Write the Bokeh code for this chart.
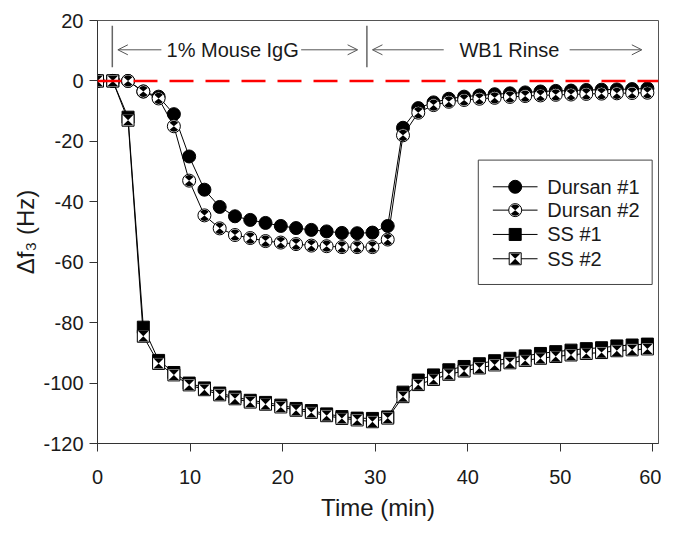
import math
from bokeh.plotting import figure
from bokeh.models import (Span, Arrow, OpenHead, FixedTicker, Range1d, PrintfTickFormatter)
from bokeh.embed import file_html
from bokeh.resources import INLINE
from bokeh.core.properties import value

# ---------------- data ----------------
time_min = [0.0, 1.65, 3.3, 4.95, 6.6, 8.25, 9.9, 11.55, 13.2, 14.85, 16.5, 18.15,
            19.8, 21.45, 23.1, 24.75, 26.4, 28.05, 29.7, 31.35, 33.0, 34.65, 36.3,
            37.95, 39.6, 41.25, 42.9, 44.55, 46.2, 47.85, 49.5, 51.15, 52.8, 54.45,
            56.1, 57.75, 59.4]
dursan1 = [0, 0, 0, -3.5, -5.2, -11, -25, -36, -41.7, -44.8, -46, -47, -48, -48.7,
           -49.3, -49.8, -50.3, -50.4, -50.2, -48, -15.5, -9.0, -7.1, -5.9, -5.2, -4.8,
           -4.4, -4.1, -3.8, -3.5, -3.3, -3.2, -3.0, -2.9, -2.8, -2.7, -2.5]
dursan2 = [0, 0, 0, -3.5, -5.8, -15, -33, -44.5, -48.8, -51, -52, -53, -53.5, -54,
           -54.5, -54.7, -55, -55, -55, -52.5, -18, -10.5, -8.0, -6.9, -6.3, -5.9,
           -5.6, -5.3, -5.0, -4.8, -4.6, -4.5, -4.3, -4.2, -4.1, -4.0, -3.9]
ss1 = [0, 0, -12, -81.5, -92.5, -96.5, -100, -101.6, -103.3, -104.6, -105.7, -106.4,
       -107.3, -108.4, -109.1, -110.2, -111.1, -111.6, -111.7, -111.2, -103, -99,
       -97.3, -95.6, -94.5, -93.6, -92.6, -91.8, -91.0, -90.2, -89.6, -89.1, -88.6,
       -88.3, -87.7, -87.4, -87.1]
ss2 = [0, 0, -13, -84.5, -93.5, -97.3, -100.6, -102.2, -103.9, -105.2, -106.3, -107.0,
       -107.9, -109.0, -109.7, -110.8, -111.7, -112.2, -112.8, -111.6, -104.5, -100.5,
       -98.8, -97.1, -96.0, -95.0, -94.0, -93.3, -92.5, -91.8, -91.2, -90.7, -90.2,
       -89.9, -89.3, -89.0, -88.7]
series_names = ["Dursan #1", "Dursan #2", "SS #1", "SS #2"]

x_ticks = [0, 10, 20, 30, 40, 50, 60]
y_ticks = [-120, -100, -80, -60, -40, -20, 0, 20]

phase_edges = [1.6, 29.1]
phase_labels = ["1% Mouse IgG", "WB1 Rinse"]
phase_label_x = [14.6, 44.5]
arrow_start = [6.9, 22.0, 37.4, 51.0]
arrow_end = [2.2, 28.1, 29.7, 58.8]

# ---------------- layout constants ----------------
FONT = "Liberation Sans"
W, H = 661, 523
ML, MR, MT, MB = 97, 3, 20, 77
X0, X1, Y0, Y1 = 0, 60.6, -120, 20

p = figure(width=W, height=H, x_range=Range1d(X0, X1), y_range=Range1d(Y0, Y1),
           output_backend="svg", toolbar_location=None,
           min_border_left=ML, min_border_right=MR, min_border_top=MT, min_border_bottom=MB)
p.xgrid.visible = False
p.ygrid.visible = False
p.outline_line_color = "#555555"
p.outline_line_width = 1
p.background_fill_color = "white"
p.border_fill_color = "white"

for ax in (p.xaxis[0], p.yaxis[0]):
    ax.axis_line_color = "#333333"
    ax.major_tick_line_color = "#333333"
    ax.major_tick_in = 0
    ax.major_tick_out = 8
    ax.minor_tick_line_color = None
    ax.major_label_text_font = FONT
    ax.major_label_text_font_size = "20px"
    ax.major_label_text_color = "#1a1a1a"
    ax.axis_label_text_font = FONT
    ax.axis_label_text_font_size = "24px"
    ax.axis_label_text_font_style = "normal"
    ax.axis_label_text_color = "#1a1a1a"
    ax.formatter = PrintfTickFormatter(format="%d")

p.xaxis.ticker = FixedTicker(ticks=x_ticks)
p.yaxis.ticker = FixedTicker(ticks=y_ticks)
p.xaxis.major_label_standoff = 18
p.xaxis.axis_label_standoff = 7
p.yaxis.major_label_standoff = 6
p.yaxis.axis_label_standoff = 1
p.xaxis.axis_label = "Time (min)"
p.yaxis.axis_label = "\u0394f\u2083 (Hz)"

# screen scale of this figure (data units per pixel)
px_x = (X1 - X0) / (W - ML - MR)
px_y = (Y1 - Y0) / (H - MT - MB)
sx_ratio = (1 / px_x) / 9.53      # this figure's x scale relative to the reference
sy_ratio = (1 / px_y) / 3.107


# reference-pixel -> data (reference frame: x=0 at 97 px, y=20 at 22 px)
def dx(px):
    return (px - 97) / 9.53


def dy(py):
    return 20 - (py - 22) / 3.107


# ---------------- lines ----------------
lw = 1.0
for ys in (dursan1, dursan2, ss1, ss2):
    p.line(time_min, ys, line_color="black", line_width=lw)

# ---------------- markers ----------------
CS, SQ = 13, 12
WEDGES = ((40, 140), (220, 320))


def hourglass(xs, ys, half=5.2):
    hx, hy = half * px_x, half * px_y
    px_list, py_list = [], []
    for x, y in zip(xs, ys):
        px_list.append([x - hx, x + hx, x]); py_list.append([y + hy, y + hy, y])
        px_list.append([x - hx, x + hx, x]); py_list.append([y - hy, y - hy, y])
    return px_list, py_list


def draw_markers(xs, k, ys):
    if k == 0:
        p.scatter(xs, ys, marker="circle", size=CS, fill_color="black", line_color="black")
    elif k == 1:
        p.scatter(xs, ys, marker="circle", size=CS, fill_color="white", line_color="black")
        for a0, a1 in WEDGES:
            p.wedge(xs, ys, radius=5.6, radius_units="screen",
                    start_angle=math.radians(a0), end_angle=math.radians(a1),
                    fill_color="black", line_color=None)
    elif k == 2:
        p.scatter(xs, ys, marker="square", size=SQ, fill_color="black", line_color="black")
    else:
        p.scatter(xs, ys, marker="square", size=SQ, fill_color="white", line_color="black")
        hxs, hys = hourglass(xs, ys)
        p.patches(hxs, hys, fill_color="black", line_color=None)


for k, ys in enumerate((dursan1, dursan2, ss1, ss2)):
    draw_markers(time_min, k, ys)

# ---------------- zero line ----------------
p.add_layout(Span(location=0, dimension="width", line_color="#ff0000", line_width=2.5,
                  line_dash="24 12"))

# ---------------- phase annotations ----------------
arrow_y = 10.3
p.segment(x0=phase_edges, y0=[4.5] * len(phase_edges), x1=phase_edges,
          y1=[18.3] * len(phase_edges), line_color="#666666", line_width=1.5)
for xs_, xe_ in zip(arrow_start, arrow_end):
    p.add_layout(Arrow(end=OpenHead(size=10, line_color="#555555", line_width=1),
                       x_start=xs_, y_start=arrow_y, x_end=xe_, y_end=arrow_y,
                       line_color="#555555", line_width=1))
p.text(x=phase_label_x, y=[arrow_y] * len(phase_labels), text=phase_labels,
       text_font=value(FONT), text_font_size="20px", text_color="#1a1a1a",
       text_align="center", text_baseline="middle")

# ---------------- legend (box, samples and labels) ----------------
LEG_L, LEG_T, LEG_R, LEG_B = 489, 166, 668, 293
LEG_ROWS = [193, 217, 242, 267]
LEG_LINE = (504, 550)
LEG_TEXT_X = 560
p.rect(x=[dx((LEG_L + LEG_R) / 2)], y=[dy((LEG_T + LEG_B) / 2)],
       width=(LEG_R - LEG_L) * sx_ratio, height=(LEG_B - LEG_T) * sy_ratio,
       width_units="screen", height_units="screen",
       fill_color="white", line_color="#444444", line_width=1)
for k, row in enumerate(LEG_ROWS):
    p.segment(x0=[dx(LEG_LINE[0])], y0=[dy(row)], x1=[dx(LEG_LINE[1])], y1=[dy(row)],
              line_color="black", line_width=lw)
    draw_markers([dx((LEG_LINE[0] + LEG_LINE[1]) / 2)], k, [dy(row)])
p.text(x=[dx(LEG_TEXT_X)] * 4, y=[dy(r) for r in LEG_ROWS], text=series_names,
       text_font=value(FONT), text_font_size="20px", text_color="#1a1a1a",
       text_align="left", text_baseline="middle")

open("out.html", "w").write(file_html(p, INLINE))
